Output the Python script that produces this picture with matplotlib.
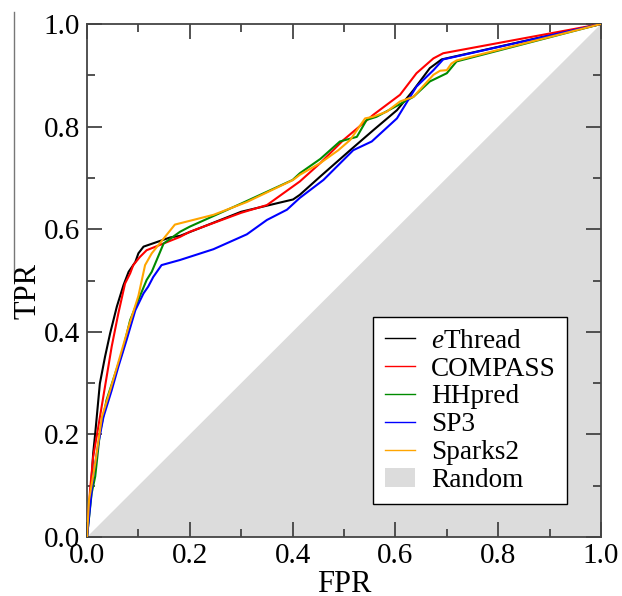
import matplotlib
matplotlib.use("Agg")
import matplotlib.pyplot as plt
from matplotlib.lines import Line2D

plt.rcParams['font.family'] = ['Liberation Serif', 'DejaVu Serif']
plt.rcParams['mathtext.fontset'] = 'custom'
plt.rcParams['mathtext.rm'] = 'Liberation Serif'
plt.rcParams['mathtext.it'] = 'Liberation Serif:italic'

# ---------------- data ----------------
ethread_fpr = [0, 0.004, 0.008, 0.012, 0.016, 0.025, 0.035, 0.045, 0.058, 0.071, 0.081, 0.094, 0.100, 0.110,
               0.162, 0.181, 0.300, 0.401, 0.414, 0.453, 0.512, 0.557, 0.603, 0.635, 0.667, 0.690, 1.0]
ethread_tpr = [0, 0.053, 0.100, 0.163, 0.202, 0.299, 0.351, 0.397, 0.449, 0.491, 0.517, 0.536, 0.553, 0.566,
               0.584, 0.587, 0.634, 0.658, 0.667, 0.702, 0.754, 0.793, 0.832, 0.871, 0.914, 0.931, 1.0]

compass_fpr = [0, 0.006, 0.012, 0.022, 0.035, 0.048, 0.061, 0.074, 0.084, 0.090, 0.103, 0.116, 0.181, 0.200,
               0.300, 0.350, 0.414, 0.454, 0.479, 0.499, 0.557, 0.609, 0.641, 0.674, 0.693, 1.0]
compass_tpr = [0, 0.092, 0.156, 0.215, 0.293, 0.371, 0.436, 0.494, 0.514, 0.530, 0.546, 0.559, 0.585, 0.595,
               0.632, 0.647, 0.693, 0.729, 0.754, 0.774, 0.823, 0.862, 0.904, 0.933, 0.943, 1.0]

hhpred_fpr = [0, 0.009, 0.016, 0.025, 0.038, 0.055, 0.068, 0.084, 0.097, 0.116, 0.126, 0.149, 0.181, 0.200,
              0.300, 0.400, 0.414, 0.454, 0.473, 0.492, 0.525, 0.544, 0.563, 0.635, 0.667, 0.700, 0.719, 1.0]
hhpred_tpr = [0, 0.085, 0.118, 0.202, 0.267, 0.319, 0.358, 0.423, 0.455, 0.501, 0.517, 0.572, 0.595, 0.605,
              0.650, 0.696, 0.709, 0.737, 0.754, 0.771, 0.780, 0.813, 0.819, 0.858, 0.888, 0.904, 0.927, 1.0]

sp3_fpr = [0, 0.006, 0.012, 0.022, 0.032, 0.048, 0.061, 0.077, 0.094, 0.110, 0.119, 0.129, 0.145, 0.181,
           0.246, 0.311, 0.350, 0.389, 0.414, 0.460, 0.518, 0.554, 0.603, 0.625, 0.641, 0.674, 0.693, 1.0]
sp3_tpr = [0, 0.059, 0.118, 0.182, 0.234, 0.286, 0.332, 0.384, 0.442, 0.475, 0.488, 0.507, 0.530, 0.540,
           0.561, 0.590, 0.618, 0.638, 0.661, 0.696, 0.754, 0.771, 0.816, 0.852, 0.878, 0.910, 0.931, 1.0]

sparks2_fpr = [0, 0.004, 0.016, 0.029, 0.045, 0.064, 0.081, 0.100, 0.113, 0.126, 0.171, 0.246, 0.311, 0.401,
               0.414, 0.454, 0.489, 0.512, 0.541, 0.556, 0.583, 0.609, 0.635, 0.674, 0.687, 0.700, 0.709, 0.719, 1.0]
sparks2_tpr = [0, 0.072, 0.144, 0.234, 0.286, 0.351, 0.410, 0.470, 0.530, 0.553, 0.609, 0.628, 0.653, 0.696,
               0.706, 0.729, 0.754, 0.774, 0.816, 0.819, 0.829, 0.849, 0.858, 0.901, 0.909, 0.910, 0.923, 0.929, 1.0]

random_fpr = [0, 1, 1]
random_tpr = [0, 0, 1]

labels = [r'$\mathit{e}$Thread', 'COMPASS', 'HHpred', 'SP3', 'Sparks2', 'Random']
x_ticks = [0.0, 0.2, 0.4, 0.6, 0.8, 1.0]
y_ticks = [0.0, 0.2, 0.4, 0.6, 0.8, 1.0]

# ---------------- figure ----------------
fig = plt.figure(figsize=(6.22, 5.96), dpi=100)
ax = fig.add_axes([87 / 622, 1 - 537 / 596, 514 / 622, 513 / 596])

ax.fill(random_fpr, random_tpr, color='#dcdcdc', lw=0, label=labels[5], zorder=1)
lw = 1.5
ax.plot(ethread_fpr, ethread_tpr, color='black', lw=lw, label=labels[0], zorder=3)
ax.plot(compass_fpr, compass_tpr, color='#ff0000', lw=lw, label=labels[1], zorder=3)
ax.plot(hhpred_fpr, hhpred_tpr, color='#008b00', lw=lw, label=labels[2], zorder=3)
ax.plot(sp3_fpr, sp3_tpr, color='#0000ff', lw=lw, label=labels[3], zorder=3)
ax.plot(sparks2_fpr, sparks2_tpr, color='#ffa500', lw=lw, label=labels[4], zorder=3)

ax.set_xlim(0, 1)
ax.set_ylim(0, 1)
ax.set_xticks(x_ticks)
ax.set_yticks(y_ticks)
ax.set_xticklabels([f'{v:.1f}' for v in x_ticks])
ax.set_yticklabels([f'{v:.1f}' for v in y_ticks])
ax.set_xticks([0.1, 0.3, 0.5, 0.7, 0.9], minor=True)
ax.set_yticks([0.1, 0.3, 0.5, 0.7, 0.9], minor=True)

spine_c = '#444444'
for s in ax.spines.values():
    s.set_color(spine_c)
    s.set_linewidth(1.3)
ax.tick_params(which='both', direction='in', top=True, right=True, color=spine_c, width=1.3)
ax.tick_params(which='major', length=10.5, labelsize=21)
ax.tick_params(which='minor', length=5.8)
ax.tick_params(axis='x', which='major', pad=4.5)
ax.tick_params(axis='y', which='major', pad=5)

fig.text(344 / 622, 1 - 592 / 596, 'FPR', fontsize=22, ha='center', va='baseline')
fig.text(35 / 622, 1 - 291 / 596, 'TPR', fontsize=22, ha='center', va='baseline',
         rotation=90, rotation_mode='anchor')

# artifact rule at left edge
fig.add_artist(Line2D([13.5 / 622, 13.5 / 622], [1 - 12 / 596, 1 - 278 / 596],
                      transform=fig.transFigure, color='#777777', lw=1.0))

handles, lbls = ax.get_legend_handles_labels()
order = [1, 2, 3, 4, 5, 0]
leg = ax.legend([handles[i] for i in order], [lbls[i] for i in order],
                loc='upper left', bbox_to_anchor=(0.557, 0.428), borderaxespad=0,
                fontsize=19.6, frameon=True, fancybox=False, framealpha=1,
                edgecolor='black', handlelength=1.1, handletextpad=0.6,
                labelspacing=0.1, borderpad=0.42)
leg.get_frame().set_linewidth(1.0)
for h in leg.legend_handles:
    if isinstance(h, Line2D):
        h.set_linewidth(1.0)

fig.savefig('out.png', dpi=100)
